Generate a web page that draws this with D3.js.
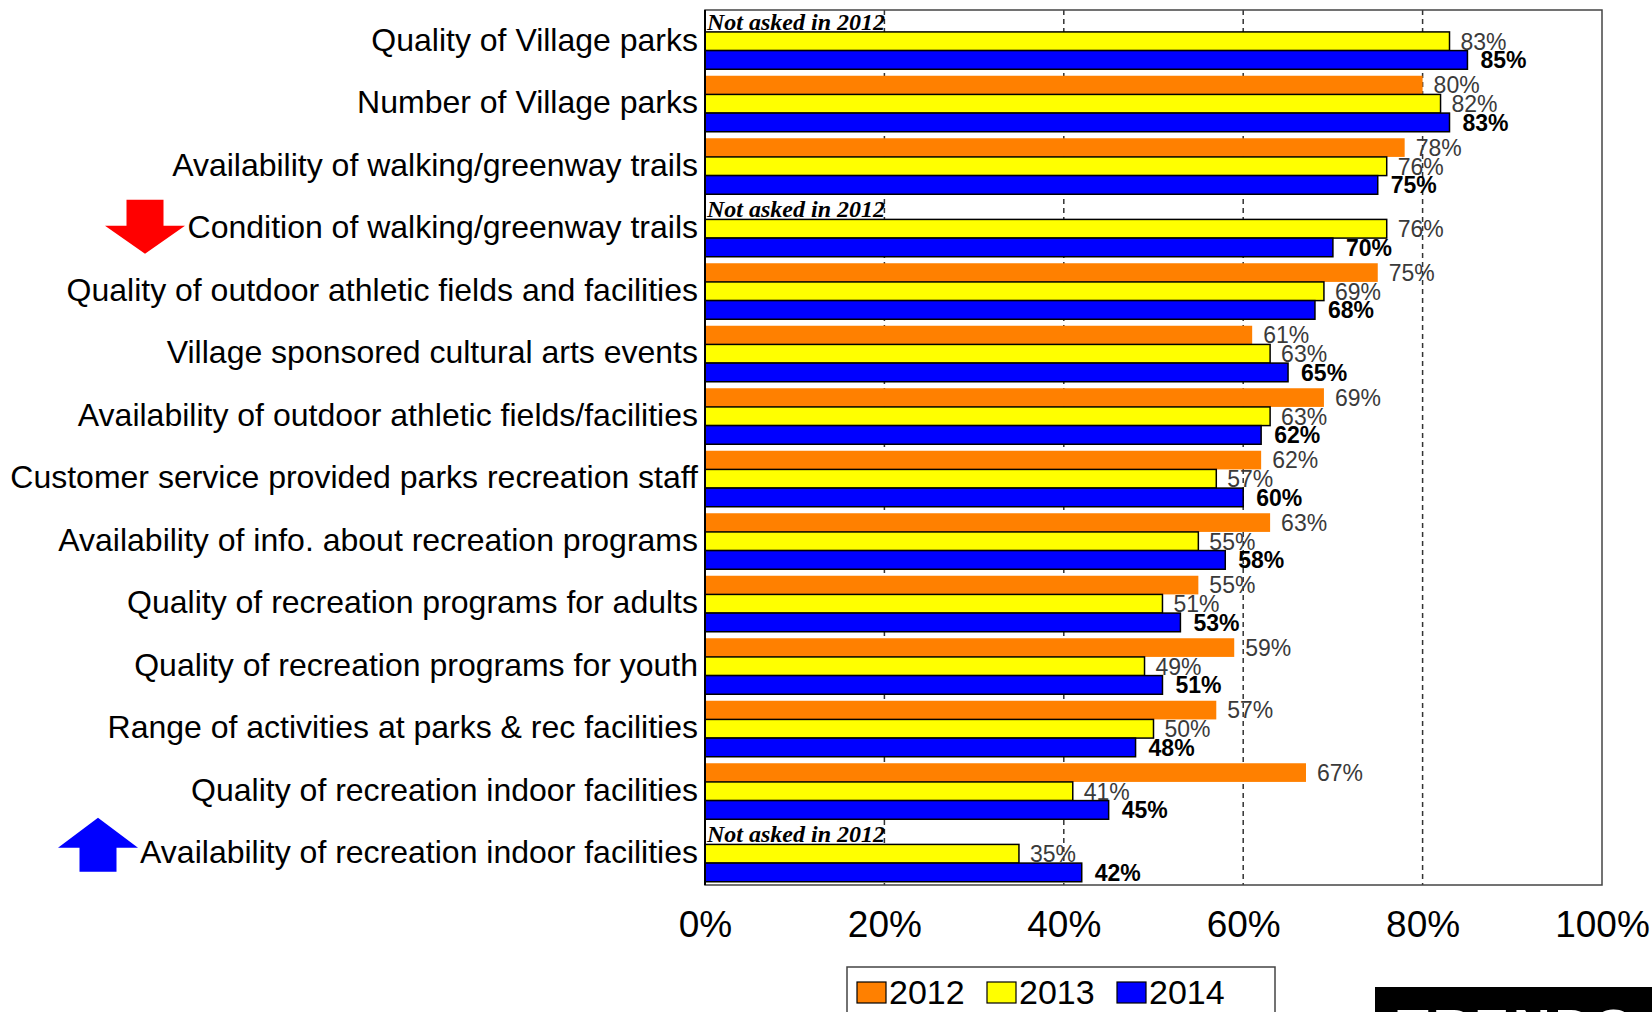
<!DOCTYPE html>
<html><head><meta charset="utf-8">
<script src="https://cdn.jsdelivr.net/npm/d3@7"></script>
<style>html,body{margin:0;padding:0;background:#fff;overflow:hidden}</style>
</head><body>
<svg id="chart" width="1652" height="1012"></svg>
<script>
const categories = [
  "Quality of Village parks",
  "Number of Village parks",
  "Availability of walking/greenway trails",
  "Condition of walking/greenway trails",
  "Quality of outdoor athletic fields and facilities",
  "Village sponsored cultural arts events",
  "Availability of outdoor athletic fields/facilities",
  "Customer service provided parks recreation staff",
  "Availability of info. about recreation programs",
  "Quality of recreation programs for adults",
  "Quality of recreation programs for youth",
  "Range of activities at parks & rec facilities",
  "Quality of recreation indoor facilities",
  "Availability of recreation indoor facilities"
];
const years = ["2012", "2013", "2014"];
const values2012 = [null, 80, 78, null, 75, 61, 69, 62, 63, 55, 59, 57, 67, null];
const values2013 = [83, 82, 76, 76, 69, 63, 63, 57, 55, 51, 49, 50, 41, 35];
const values2014 = [85, 83, 75, 70, 68, 65, 62, 60, 58, 53, 51, 48, 45, 42];
const xTicks = [0, 0.2, 0.4, 0.6, 0.8, 1.0];
const gridTicks = [0.2, 0.4, 0.6, 0.8];
const notAskedText = "Not asked in 2012";
const arrowDown = ["Condition of walking/greenway trails"];
const arrowUp = ["Availability of recreation indoor facilities"];

const colors = {"2012": "#FF8000", "2013": "#FFFF00", "2014": "#0000FF"};
const seriesVals = {"2012": values2012, "2013": values2013, "2014": values2014};

const svg = d3.select("#chart");
const L = 705, R = 1602, T = 10, B = 885;

const x = d3.scaleLinear().domain([0, 1]).range([L, R]);
const y = d3.scaleBand().domain(categories).range([T, B]).padding(0);
const ySub = d3.scaleBand().domain(years).range([3.25, y.bandwidth() - 3.25]).padding(0);

// gridlines
svg.append("g").selectAll("line").data(gridTicks).join("line")
  .attr("x1", d => x(d)).attr("x2", d => x(d))
  .attr("y1", T).attr("y2", B)
  .attr("stroke", "#333").attr("stroke-width", 1.5)
  .attr("stroke-dasharray", "5,4");

// bars
const groups = svg.append("g").selectAll("g").data(categories).join("g")
  .attr("transform", d => `translate(0,${y(d)})`);

groups.each(function(cat, i) {
  const g = d3.select(this);
  years.forEach(yr => {
    const v = seriesVals[yr][i];
    if (v == null) return;
    g.append("rect")
      .attr("x", x(0))
      .attr("y", ySub(yr))
      .attr("width", x(v / 100) - x(0))
      .attr("height", ySub.bandwidth())
      .attr("fill", colors[yr])
      .attr("stroke", yr === "2012" ? "none" : "#000")
      .attr("stroke-width", 1.5);
  });
  years.forEach(yr => {
    const v = seriesVals[yr][i];
    if (v == null) return;
    const bold = yr === "2014";
    g.append("text")
      .attr("x", x(v / 100) + (bold ? 13 : 11))
      .attr("y", ySub(yr) + ySub.bandwidth() / 2)
      .attr("dy", "0.36em")
      .attr("font-family", "'Liberation Sans', Arial, sans-serif")
      .attr("font-size", 23)
      .attr("font-weight", bold ? "bold" : "normal")
      .attr("fill", bold ? "#000" : "#3a3a3a")
      .text(v + "%");
  });
  if (values2012[i] == null) {
    g.append("text")
      .attr("x", x(0) + 2)
      .attr("y", ySub("2012") + ySub.bandwidth() - 2)
      .attr("font-family", "'Liberation Serif', 'Times New Roman', serif")
      .attr("font-style", "italic").attr("font-weight", "bold")
      .attr("font-size", 24)
      .attr("fill", "#000")
      .text(notAskedText);
  }
});

// frame
svg.append("rect").attr("x", L).attr("y", T).attr("width", R - L).attr("height", B - T)
  .attr("fill", "none").attr("stroke", "#444").attr("stroke-width", 1.5);
svg.append("line").attr("x1", L).attr("x2", L).attr("y1", T).attr("y2", B)
  .attr("stroke", "#000").attr("stroke-width", 2);

// category labels
svg.append("g").selectAll("text").data(categories).join("text")
  .attr("x", 698)
  .attr("y", d => y(d) + y.bandwidth() / 2)
  .attr("dy", "0.3em")
  .attr("text-anchor", "end")
  .attr("font-family", "'Liberation Sans', Arial, sans-serif")
  .attr("font-size", 32)
  .attr("fill", "#000")
  .text(d => d);

// x axis labels
const xAxis = d3.axisBottom(x).tickValues(xTicks).tickFormat(d3.format(".0%")).tickSize(0).tickPadding(0);
const ax = svg.append("g").attr("transform", `translate(0,${B})`).call(xAxis);
ax.select(".domain").remove();
ax.selectAll("text")
  .attr("y", 39).attr("dy", "0.36em")
  .attr("font-family", "'Liberation Sans', Arial, sans-serif")
  .attr("font-size", 37).attr("fill", "#000");

// arrows
function arrowDownPath(cx, top, shaftW, headW, shaftH, headH) {
  return `M${cx - shaftW/2},${top} L${cx + shaftW/2},${top} L${cx + shaftW/2},${top + shaftH} L${cx + headW/2},${top + shaftH} L${cx},${top + shaftH + headH} L${cx - headW/2},${top + shaftH} L${cx - shaftW/2},${top + shaftH} Z`;
}
function arrowUpPath(cx, top, shaftW, headW, shaftH, headH) {
  return `M${cx},${top} L${cx + headW/2},${top + headH} L${cx + shaftW/2},${top + headH} L${cx + shaftW/2},${top + headH + shaftH} L${cx - shaftW/2},${top + headH + shaftH} L${cx - shaftW/2},${top + headH} L${cx - headW/2},${top + headH} Z`;
}
arrowDown.forEach(c => {
  const cy = y(c) + y.bandwidth() / 2;
  svg.append("path").attr("d", arrowDownPath(145, cy - 29, 37, 80, 26, 28)).attr("fill", "#FF0000");
});
arrowUp.forEach(c => {
  const cy = y(c) + y.bandwidth() / 2;
  svg.append("path").attr("d", arrowUpPath(98, cy - 36, 37, 80, 24, 30)).attr("fill", "#0000FF");
});

// legend
const lg = svg.append("g");
lg.append("rect").attr("x", 847).attr("y", 967).attr("width", 428).attr("height", 70)
  .attr("fill", "#fff").attr("stroke", "#444").attr("stroke-width", 1.5);
const legX = d3.scalePoint().domain(years).range([857, 1117]);
years.forEach(yr => {
  lg.append("rect").attr("x", legX(yr)).attr("y", 982).attr("width", 29).attr("height", 21)
    .attr("fill", colors[yr]).attr("stroke", "#000").attr("stroke-width", 1.2);
  lg.append("text").attr("x", legX(yr) + 32).attr("y", 992).attr("dy", "0.36em")
    .attr("font-family", "'Liberation Sans', Arial, sans-serif").attr("font-size", 34)
    .attr("fill", "#000").text(yr);
});

// logo strip
svg.append("rect").attr("x", 1375).attr("y", 987).attr("width", 300).attr("height", 40).attr("fill", "#000");
svg.append("text").attr("x", 1397).attr("y", 1046)
  .attr("font-family", "'Liberation Sans', Arial, sans-serif").attr("font-weight", "bold")
  .attr("font-size", 52).attr("letter-spacing", 4).attr("fill", "#fff").text("TRENDS");
</script>
</body></html>
